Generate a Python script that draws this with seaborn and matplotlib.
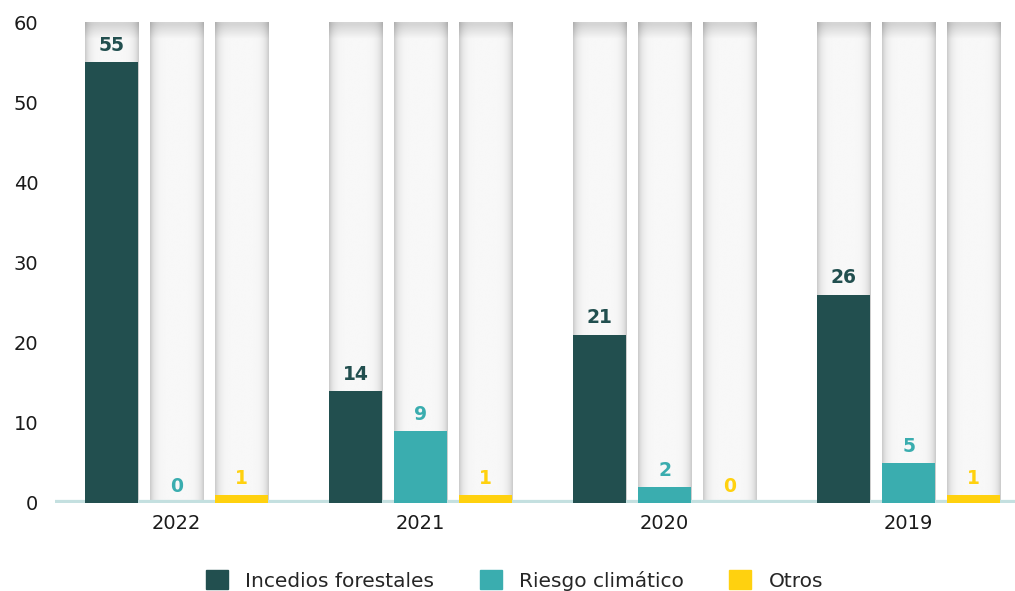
import numpy as np
import pandas as pd
import seaborn as sns
import matplotlib.pyplot as plt
from matplotlib.patches import Patch

years = ["2022", "2021", "2020", "2019"]
series = ["Incedios forestales", "Riesgo climático", "Otros"]
incendios = [55, 14, 21, 26]
riesgo = [0, 9, 2, 5]
otros = [1, 1, 0, 1]
colors = ["#224f4f", "#3aadaf", "#ffd10f"]

df = pd.DataFrame({
    "year": years * 3,
    "serie": [series[0]] * 4 + [series[1]] * 4 + [series[2]] * 4,
    "value": incendios + riesgo + otros,
})
bg = df.copy()
bg["value"] = 60

sns.set_style("white")
plt.rcParams["font.family"] = ["DejaVu Sans"]

fig = plt.figure(figsize=(10.15, 5.91), dpi=100)
ax = fig.add_axes([55 / 1015, 88 / 591, 960 / 1015, 481 / 591])

# background "tubes"
sns.barplot(data=bg, x="year", y="value", hue="serie", order=years, hue_order=series,
            palette=["#f7f7f7"] * 3, width=0.8, gap=0.184, legend=False, ax=ax,
            linewidth=0, zorder=1)
bg_patches = list(ax.patches)
prof = np.linspace(-1, 1, 200)
shade = 0.79 + 0.18 * (1 - np.abs(prof) ** 6)
vert = np.ones(100)
vert[:4] = np.linspace(0.86, 1.0, 4)
img = np.outer(vert, shade)
for p in bg_patches:
    x0, w = p.get_x(), p.get_width()
    p.set_visible(False)
    ax.imshow(img, cmap="gray", vmin=0, vmax=1, extent=(x0, x0 + w, 0, 60),
              aspect="auto", zorder=1, interpolation="bilinear")

sns.barplot(data=df, x="year", y="value", hue="serie", order=years, hue_order=series,
            palette=colors, saturation=1, width=0.8, gap=0.184, legend=False, ax=ax,
            linewidth=0, zorder=3)

for i, cont in enumerate(ax.containers[-3:]):
    for bar, v in zip(cont, [incendios, riesgo, otros][i]):
        ax.annotate(f"{v}", (bar.get_x() + bar.get_width() / 2, v),
                    xytext=(0, 12), textcoords="offset points", ha="center", va="center",
                    fontsize=13.5, fontweight="bold", color=colors[i], zorder=5)

ax.axhline(0, color="#c4e0e0", linewidth=4.5, zorder=2)
ax.set_xlim(-0.498, 3.436)
ax.set_ylim(0, 60)
ax.set_yticks(range(0, 61, 10))
ax.set_xlabel("")
ax.set_ylabel("")
ax.tick_params(axis="both", length=0, labelsize=14, colors="#1a1a1a")
ax.tick_params(axis="y", pad=12)
ax.tick_params(axis="x", pad=8)
sns.despine(ax=ax, left=True, bottom=True)

handles = [Patch(color=c) for c in colors]
fig.legend(handles, series, loc="center", bbox_to_anchor=(0.507, 0.018), ncol=3,
           frameon=False, fontsize=14.5, handlelength=1.1, handleheight=1.1,
           columnspacing=2.25, handletextpad=0.85)

fig.savefig("out.png", dpi=100)
